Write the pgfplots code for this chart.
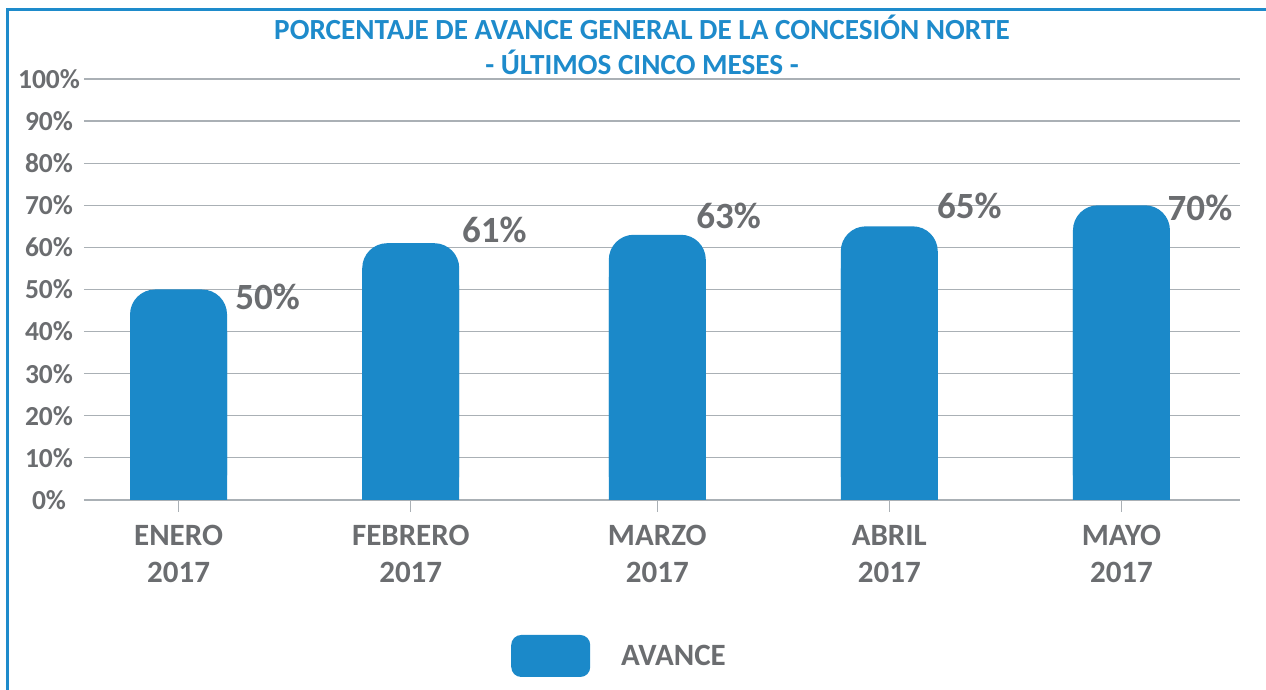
\documentclass[border=0pt]{standalone}
\usepackage{pgfplots}
\pgfplotsset{compat=1.18}
\usepackage{fontspec}
\setmainfont{Carlito}
\definecolor{barblue}{HTML}{1B89C9}
\definecolor{titleblue}{HTML}{1E8BCB}
\definecolor{txtgray}{HTML}{6B6D70}
\definecolor{gridgray}{HTML}{AAB0B5}
\begin{document}
\begin{tikzpicture}[x=1pt,y=1pt]
\useasboundingbox (0,0) rectangle (1266,690);
\draw[titleblue, line width=3pt] (7,-5) -- (7,680) -- (1270,680);
\node[font=\fontsize{29.2}{35}\selectfont\bfseries, text=titleblue, align=center] at (642,645) {PORCENTAJE DE AVANCE GENERAL DE LA CONCESIÓN NORTE\\- ÚLTIMOS CINCO MESES -};
\begin{axis}[at={(84pt,190pt)}, anchor=south west, scale only axis,
  width=1156pt, height=421pt,
  xmin=-0.401, xmax=4.503, ymin=0, ymax=100,
  axis lines*=left,
  y axis line style={draw=none},
  x axis line style={gridgray, line width=1.2pt},
  ymajorgrids, grid style={gridgray, line width=1.2pt},
  ytick={0,10,...,100},
  yticklabels={0\%,10\%,20\%,30\%,40\%,50\%,60\%,70\%,80\%,90\%,100\%},
  yticklabel style={anchor=center, xshift=-23pt, font=\fontsize{27.5}{30}\selectfont\bfseries, text=txtgray},
  ytick style={draw=none},
  xtick={0,0.985,2.031,3.015,4},
  xticklabels={{ENERO\\2017},{FEBRERO\\2017},{MARZO\\2017},{ABRIL\\2017},{MAYO\\2017}},
  xticklabel style={align=center, font=\fontsize{31}{37}\selectfont\bfseries, text=txtgray, yshift=-10pt},
  xtick style={gridgray, line width=1.2pt},
  tick align=outside, major tick length=12pt,
  legend style={draw=none, fill=none, at={(0.3694,-0.3705)}, anchor=west,
    font=\fontsize{31}{34}\selectfont\bfseries, text=txtgray, inner sep=0pt,
    /tikz/every even column/.style={column sep=0pt}},
  legend image code/.code={\fill[barblue, sharp corners, rounded corners=10pt] (0pt,-21pt) rectangle (79pt,21pt);},
  clip=false,
]
\addplot[ybar, bar width=97pt, bar shift=0pt, fill=barblue, draw=none, rounded corners=25pt]
  coordinates {(0,50) (0.985,61) (2.031,63) (3.015,65) (4,70)};
\addlegendentry{\hspace{29pt}AVANCE}
\addplot[ybar, bar width=97pt, bar shift=0pt, fill=barblue, draw=none, sharp corners, forget plot]
  coordinates {(0,40) (0.985,51) (2.031,53) (3.015,55) (4,60)};
\addplot[draw=none, mark=none, forget plot, nodes near coords, point meta=explicit symbolic,
  every node near coord/.append style={anchor=center, font=\fontsize{37}{40}\selectfont\bfseries, text=txtgray}]
  coordinates {(0.3775,48.2) [50\%] (1.340,64.1) [61\%] (2.333,67.5) [63\%] (3.355,69.8) [65\%] (4.333,69.4) [70\%]};
\end{axis}
\end{tikzpicture}
\end{document}
